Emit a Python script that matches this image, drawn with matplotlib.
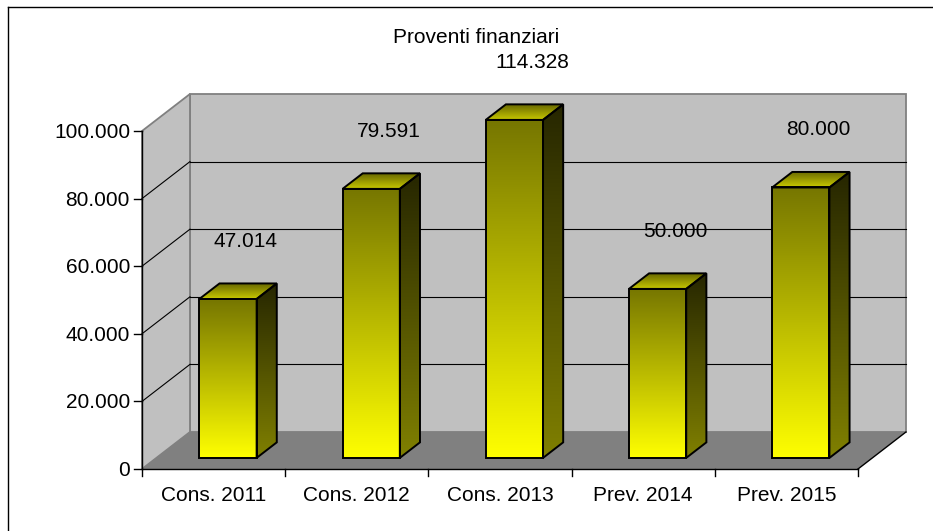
import numpy as np
import matplotlib.pyplot as plt
from matplotlib.patches import Polygon
from matplotlib.colors import LinearSegmentedColormap
from matplotlib.lines import Line2D

plt.rcParams['font.family'] = ['Liberation Sans', 'DejaVu Sans']

title = "Proventi finanziari"
categories = ["Cons. 2011", "Cons. 2012", "Cons. 2013", "Prev. 2014", "Prev. 2015"]
values = [47014, 79591, 114328, 50000, 80000]
value_labels = ["47.014", "79.591", "114.328", "50.000", "80.000"]
y_ticks = [0, 20000, 40000, 60000, 80000, 100000]
y_tick_labels = ["0", "20.000", "40.000", "60.000", "80.000", "100.000"]
y_max = 100000

# oblique offset of the 3d box for full depth (category units, value units)
DX, DY = 0.335, 10950
Z_FRONT, Z_BACK = 0.30, 0.72
BAR_W = 0.40

# pixel scale of the data units
PX_CAT = 143.2
PX_VAL = 338 / y_max


def proj(x, y, z):
    return x + z * DX, y + z * DY


def grad_fill(poly, colors, zorder=3):
    # polygon filled with a vertical gradient (colors[0] at the bottom)
    cmap = LinearSegmentedColormap.from_list("g", colors)
    patch = Polygon(poly, closed=True, facecolor='none', edgecolor='black',
                    lw=1.4, joinstyle='miter', zorder=zorder + 0.5)
    ax.add_patch(patch)
    xs, ys = zip(*poly)
    im = ax.imshow(np.linspace(0, 1, 256).reshape(-1, 1), cmap=cmap,
                   extent=(min(xs), max(xs), min(ys), max(ys)),
                   origin='lower', aspect='auto', interpolation='bilinear',
                   zorder=zorder)
    im.set_clip_path(patch)


fig = plt.figure(figsize=(9.33, 5.31), dpi=100)
ax = fig.add_axes([0, 0, 1, 1])
ax.set_axis_off()

n = len(categories)

# walls and floor
back = [proj(0, 0, 1), proj(n, 0, 1), proj(n, y_max, 1), proj(0, y_max, 1)]
left = [proj(0, 0, 0), proj(0, 0, 1), proj(0, y_max, 1), proj(0, y_max, 0)]
floor = [proj(0, 0, 0), proj(n, 0, 0), proj(n, 0, 1), proj(0, 0, 1)]
ax.add_patch(Polygon(back, facecolor='#c0c0c0', edgecolor='#808080', lw=1.3, zorder=1))
ax.add_patch(Polygon(left, facecolor='#c0c0c0', edgecolor='#808080', lw=1.3, zorder=1))
ax.add_patch(Polygon(floor, facecolor='#808080', edgecolor='none', zorder=1.2))

# gridlines on back and side wall
for v in y_ticks[1:-1]:
    bx, by = zip(proj(0, v, 1), proj(n, v, 1))
    ax.plot(bx, by, color='black', lw=0.8, zorder=1.5)
    lx, ly = zip(proj(0, v, 0), proj(0, v, 1))
    ax.plot(lx, ly, color='black', lw=0.8, zorder=1.5)

# axes lines
ax.plot([0, 0], [0, y_max], color='black', lw=1.0, zorder=2)
ax.plot([0, n], [0, 0], color='black', lw=1.0, zorder=2)
rx, ry = zip(proj(n, 0, 0), proj(n, 0, 1))
ax.plot(rx, ry, color='black', lw=1.0, zorder=2)

# y ticks and labels
for v, lab in zip(y_ticks, y_tick_labels):
    ax.plot([-8 / PX_CAT, 0], [v, v], color='black', lw=1.0, zorder=2)
    ax.annotate(lab, xy=(0, v), xytext=(-12, -7), textcoords='offset pixels',
                ha='right', va='baseline', fontsize=15)

# x ticks and labels
for k in range(n + 1):
    ax.plot([k, k], [0, -7 / PX_VAL], color='black', lw=1.0, zorder=2)
for i, lab in enumerate(categories):
    ax.annotate(lab, xy=(i + 0.5, 0), xytext=(0, -32), textcoords='offset pixels',
                ha='center', va='baseline', fontsize=15)

# bars (values above the axis maximum are cut at the top of the box)
for i, (v, lab) in enumerate(zip(values, value_labels)):
    top = min(v, y_max)
    x0, x1 = i + 0.5 - BAR_W / 2, i + 0.5 + BAR_W / 2
    front = [proj(x0, 0, Z_FRONT), proj(x1, 0, Z_FRONT),
             proj(x1, top, Z_FRONT), proj(x0, top, Z_FRONT)]
    side = [proj(x1, 0, Z_FRONT), proj(x1, 0, Z_BACK),
            proj(x1, top, Z_BACK), proj(x1, top, Z_FRONT)]
    cap = [proj(x0, top, Z_FRONT), proj(x1, top, Z_FRONT),
           proj(x1, top, Z_BACK), proj(x0, top, Z_BACK)]
    grad_fill(front, ['#ffff00', '#767600'])
    grad_fill(side, ['#808000', '#262600'])
    grad_fill(cap, ['#c8c800', '#666600'])
    ax.annotate(lab, xy=proj(i + 0.5, top, Z_FRONT), xytext=(18, 52),
                textcoords='offset pixels', ha='center', va='baseline',
                fontsize=15, zorder=5)

ax.set_xlim(-142 / PX_CAT, (933 - 142) / PX_CAT)
ax.set_ylim(-(531 - 469) / PX_VAL, 469 / PX_VAL)

fig.text(476 / 933, 1 - 43 / 531, title, ha='center', va='baseline', fontsize=15)

# chart area border (left and top edges)
fig.add_artist(Line2D([8 / 933, 8 / 933], [0, 1 - 7 / 531], color='black', lw=1.0,
                      transform=fig.transFigure))
fig.add_artist(Line2D([8 / 933, 1], [1 - 7 / 531, 1 - 7 / 531], color='black', lw=1.0,
                      transform=fig.transFigure))

fig.savefig("out.png", dpi=100)
